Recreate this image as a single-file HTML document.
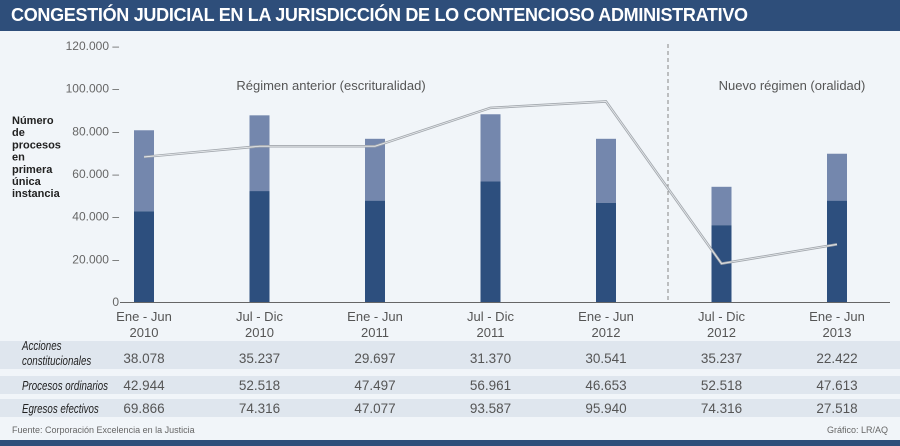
<!DOCTYPE html>
<html><head><meta charset="utf-8"><style>
body{margin:0;width:900px;height:446px;background:#f1f5f9;font-family:"Liberation Sans",sans-serif;overflow:hidden;position:relative}
#hdr{position:absolute;left:0;top:0;width:900px;height:31px;background:#2e4e7a;color:#fff;font-weight:bold;font-size:18px;line-height:31px;padding-left:11px;box-sizing:border-box;letter-spacing:-0.3px}
.band{position:absolute;left:0;width:900px;background:#dfe6ee}
#foot{position:absolute;left:0;top:440px;width:900px;height:6px;background:#2e4e7a}
svg{position:absolute;left:0;top:0}
</style></head><body>
<div id="hdr">CONGESTIÓN JUDICIAL EN LA JURISDICCIÓN DE LO CONTENCIOSO ADMINISTRATIVO</div>
<div class="band" style="top:341px;height:28px"></div>
<div class="band" style="top:376px;height:18px"></div>
<div class="band" style="top:399px;height:18px"></div>
<div id="foot"></div>
<svg id="c" width="900" height="446"></svg>
<script>
const periods=["Ene - Jun","Jul - Dic","Ene - Jun","Jul - Dic","Ene - Jun","Jul - Dic","Ene - Jun"];
const years=["2010","2010","2011","2011","2012","2012","2013"];
const acciones=[38078,35237,29697,31370,30541,35237,22422];
const procesos=[42944,52518,47497,56961,46653,52518,47613];
const egresos=[69866,74316,47077,93587,95940,74316,27518];
const lineValues=[68000,73000,73000,91000,94000,18000,27000];
const barDark=[42500,52000,47500,56500,46500,36000,47500];
const barTotals=[80500,87500,76500,88000,76500,54000,69500];
const ticks=[0,20000,40000,60000,80000,100000,120000];
const tickLabels=["0","20.000","40.000","60.000","80.000","100.000","120.000"];
const fmt=v=>v.toLocaleString('de-DE');
const S="http://www.w3.org/2000/svg",svg=document.getElementById('c');
const y=v=>302-v*256/120000, x=i=>144+i*115.5;
function mk(t,a,txt){const e=document.createElementNS(S,t);for(const k in a)e.setAttribute(k,a[k]);if(txt!=null)e.textContent=txt;svg.appendChild(e);return e;}
ticks.forEach((t,i)=>{const e=mk('text',{x:119,y:y(t)+4,'text-anchor':'end','font-size':12,fill:'#666'},tickLabels[i]+(i?" –":""));
});
let ax=mk('line',{x1:120,x2:890,y1:302.5,y2:302.5,stroke:'#666','stroke-width':1});

let dv=mk('line',{x1:668,x2:668,y1:44,y2:302,stroke:'#888','stroke-dasharray':'4,3'});

let r1=mk('text',{x:331,y:90,'text-anchor':'middle','font-size':13,fill:'#555'},"Régimen anterior (escrituralidad)");

let r2=mk('text',{x:792,y:90,'text-anchor':'middle','font-size':13,fill:'#555'},"Nuevo régimen (oralidad)");

["Número","de","procesos","en","primera","única","instancia"].forEach((w,i)=>{const e=mk('text',{x:12,y:124+i*12.2,'font-size':11,'font-weight':'bold',fill:'#222'},w);
});
periods.forEach((p,i)=>{
 const lt=mk('rect',{x:x(i)-10,y:y(barTotals[i]),width:20,height:y(barDark[i])-y(barTotals[i]),fill:'#7487ad'});
 
 const dk=mk('rect',{x:x(i)-10,y:y(barDark[i]),width:20,height:302-y(barDark[i]),fill:'#2d4f7e'});
 
 const a=mk('text',{x:x(i),y:321,'text-anchor':'middle','font-size':13,fill:'#555'},p);
 
 const b=mk('text',{x:x(i),y:337,'text-anchor':'middle','font-size':13,fill:'#555'},years[i]);
 
 [[acciones,363],[procesos,390],[egresos,413]].forEach(([arr,yy])=>{const t=mk('text',{x:x(i),y:yy,'text-anchor':'middle','font-size':13.5,fill:'#555'},fmt(arr[i]));
 });
});
const pts=lineValues.map((v,i)=>x(i)+','+y(v)).join(' ');
let l1=mk('polyline',{points:pts,fill:'none',stroke:'#a3a8ae','stroke-width':2.5});

let l2=mk('polyline',{points:pts,fill:'none',stroke:'#e8ebee','stroke-width':0.8});

[["Acciones",350],["constitucionales",365],["Procesos ordinarios",390],["Egresos efectivos",413]].forEach(([t,yy])=>{const e=mk('text',{x:0,y:0,transform:`translate(22,${yy}) scale(0.78,1)`,'font-size':12.5,'font-style':'italic',fill:'#222'},t);
});
let s=mk('text',{x:12,y:433,'font-size':9,fill:'#666'},"Fuente: Corporación Excelencia en la Justicia");

let g=mk('text',{x:888,y:433,'text-anchor':'end','font-size':9,fill:'#666'},"Gráfico: LR/AQ");

</script>
</body></html>
